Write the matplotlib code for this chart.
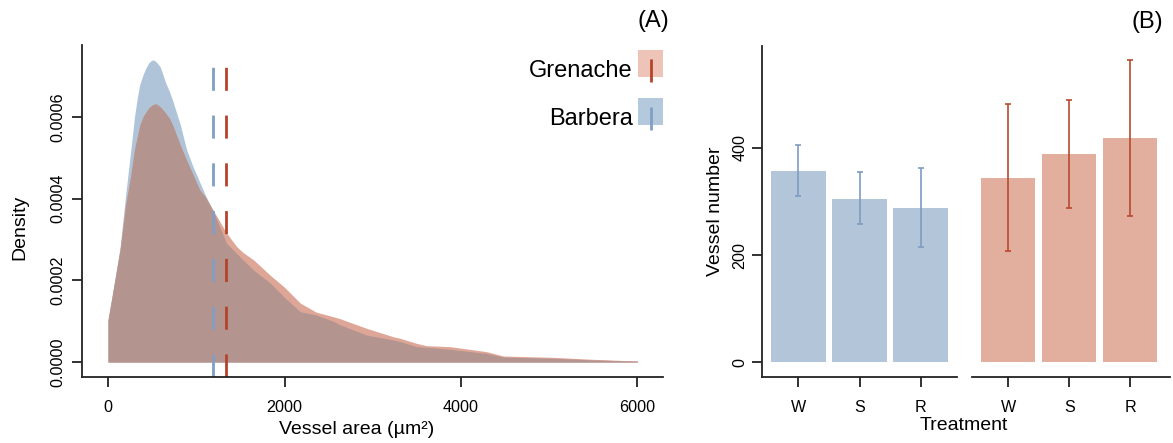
import matplotlib
matplotlib.use("Agg")
import matplotlib.pyplot as plt
import numpy as np

plt.rcParams['font.family'] = ['Liberation Sans', 'DejaVu Sans']

# density curves (A)
area = [0, 60, 136, 200, 260, 300, 330, 360, 400, 430, 460, 495, 520, 545, 590,
        620, 650, 700, 740, 820, 890, 960, 1040, 1100, 1190, 1345, 1460, 1530,
        1650, 1840, 2000, 2180, 2360, 2550, 2630, 2930, 3230, 3310, 3500, 3610,
        3880, 4290, 4480, 5050, 5500, 6000]
barbera_dens = [1.03e-4, 1.8e-4, 2.8e-4, 4.1e-4, 5.22e-4, 6.0e-4, 6.45e-4, 6.8e-4,
                7.05e-4, 7.2e-4, 7.32e-4, 7.39e-4, 7.39e-4, 7.35e-4, 7.23e-4,
                7.05e-4, 6.85e-4, 6.6e-4, 6.35e-4, 5.8e-4, 5.2e-4, 4.8e-4, 4.4e-4,
                4.1e-4, 3.7e-4, 2.9e-4, 2.65e-4, 2.5e-4, 2.25e-4, 1.93e-4, 1.58e-4,
                1.23e-4, 1.15e-4, 1.0e-4, 9.1e-5, 6.6e-5, 5.4e-5, 5.0e-5, 3.75e-5,
                3.6e-5, 3.1e-5, 2.1e-5, 1.2e-5, 9e-6, 5e-6, 2e-6]
grenache_dens = [1.03e-4, 1.78e-4, 2.74e-4, 3.85e-4, 4.6e-4, 5.2e-4, 5.5e-4, 5.8e-4,
                 6.02e-4, 6.12e-4, 6.22e-4, 6.28e-4, 6.31e-4, 6.32e-4, 6.25e-4,
                 6.18e-4, 6.1e-4, 5.95e-4, 5.76e-4, 5.3e-4, 4.94e-4, 4.6e-4, 4.21e-4,
                 4.05e-4, 3.72e-4, 3.15e-4, 2.82e-4, 2.68e-4, 2.5e-4, 2.12e-4, 1.83e-4,
                 1.44e-4, 1.22e-4, 1.11e-4, 1.06e-4, 8.25e-5, 6.2e-5, 5.8e-5, 4.55e-5,
                 4.0e-5, 3.75e-5, 2.53e-5, 1.47e-5, 1.14e-5, 6.5e-6, 2.4e-6]
barbera_mean = 1184
grenache_mean = 1336

# vessel number (B)
treatments = ['W', 'S', 'R']
barbera_n = [357, 305, 287]
barbera_lo = [310, 258, 215]
barbera_hi = [405, 355, 362]
grenache_n = [343, 388, 418]
grenache_lo = [208, 287, 273]
grenache_hi = [481, 490, 564]

W, H = 1173, 443
fig = plt.figure(figsize=(W / 100, H / 100), dpi=100)

def fx(px):
    return px / W

def fy(py):
    return 1 - py / H

def box(x0, y0, x1, y1):
    return [fx(x0), fy(y1), (x1 - x0) / W, (y1 - y0) / H]

blue_only = '#b0c4d9'
red_only = '#dea697'
overlap = '#b4948f'
blue_line = '#7f9fc4'
red_line = '#b5432a'
axcol = '#222222'

def style(ax, left=True):
    for s in ['top', 'right']:
        ax.spines[s].set_visible(False)
    ax.spines['left'].set_visible(left)
    for s in ['left', 'bottom']:
        ax.spines[s].set_linewidth(1.3)
        ax.spines[s].set_color(axcol)
    ax.tick_params(length=7.2, width=1.3, color=axcol, labelsize=11.6)

# ---- panel A
ax = fig.add_axes(box(82, 45, 663, 377))
x = np.array(area)
b = np.array(barbera_dens)
g = np.array(grenache_dens)
ax.fill_between(x, 0, b, color=blue_only, lw=0)
ax.fill_between(x, 0, g, color=red_only, lw=0)
ax.fill_between(x, 0, np.minimum(b, g), color=overlap, lw=0)
ax.axvline(barbera_mean, color=blue_line, lw=2.0, linestyle=(0, (8.3, 8.9)))
ax.axvline(grenache_mean, color=red_line, lw=2.0, linestyle=(0, (8.3, 8.9)))
ax.set_xlim(-295, 6289)
ax.set_ylim(-0.0000367, 0.000776)
ax.set_xticks([0, 2000, 4000, 6000])
ax.set_yticks([0, 0.0002, 0.0004, 0.0006])
ax.set_yticklabels(['0.0000', '0.0002', '0.0004', '0.0006'], rotation=90, va='center')
style(ax)
ax.tick_params(axis='y', pad=5)
ax.tick_params(axis='x', pad=9)

fig.text(fx(20), fy(227), 'Density', rotation=90, ha='center', va='center', fontsize=14)
fig.text(fx(357), fy(430), 'Vessel area (µm²)', ha='center', va='center', fontsize=14)
fig.text(fx(669), fy(27), '(A)', ha='right', va='baseline', fontsize=17)

# legend drawn by hand
for name, fill, lc, base in [('Grenache', '#eec4b9', red_line, 76.7),
                             ('Barbera', '#b5c9dd', blue_line, 125)]:
    fig.patches.append(plt.Rectangle((fx(637.7), fy(base)), 25.6 / W, 26.7 / H,
                                     transform=fig.transFigure, color=fill, lw=0))
    fig.lines.append(plt.Line2D([fx(650.7), fx(650.7)], [fy(base + 5), fy(base - 32.7)],
                                transform=fig.transFigure, color=lc, lw=2.0,
                                linestyle=(0, (8.3, 8.9))))
    fig.text(fx(633), fy(base), name, ha='right', va='baseline', fontsize=17)

# ---- panel B
pos = np.arange(len(treatments))
err_kw = dict(capsize=2.2, elinewidth=1.2, capthick=1.2)

axb1 = fig.add_axes(box(761.7, 45.7, 956.7, 377))
axb1.bar(pos, barbera_n, width=0.894, color='#b3c6d9')
axb1.errorbar(pos, barbera_n,
              yerr=[np.array(barbera_n) - barbera_lo, np.array(barbera_hi) - barbera_n],
              fmt='none', ecolor='#7d9cc0', **err_kw)
axb1.set_xlim(-0.598, 2.588)
axb1.set_ylim(-27.4, 590.7)
axb1.set_yticks([0, 200, 400])
axb1.set_yticklabels(['0', '200', '400'], rotation=90, va='center')
axb1.set_xticks(pos)
axb1.set_xticklabels(treatments)
style(axb1)
axb1.tick_params(axis='y', pad=3)
axb1.tick_params(axis='x', pad=9)

axb2 = fig.add_axes(box(971.7, 45.7, 1170, 377))
axb2.bar(pos, grenache_n, width=0.894, color='#e2ae9e')
axb2.errorbar(pos, grenache_n,
              yerr=[np.array(grenache_n) - grenache_lo, np.array(grenache_hi) - grenache_n],
              fmt='none', ecolor='#b84a30', **err_kw)
axb2.set_xlim(-0.601, 2.657)
axb2.set_ylim(-27.4, 590.7)
axb2.set_yticks([])
axb2.set_xticks(pos)
axb2.set_xticklabels(treatments)
style(axb2, left=False)
axb2.tick_params(axis='x', pad=9)

fig.text(fx(715), fy(211.7), 'Vessel number', rotation=90, ha='center', va='center', fontsize=14)
fig.text(fx(964), fy(425), 'Treatment', ha='center', va='center', fontsize=14)
fig.text(fx(1163), fy(28), '(B)', ha='right', va='baseline', fontsize=17)

fig.savefig('out.png', dpi=100, facecolor='white')
